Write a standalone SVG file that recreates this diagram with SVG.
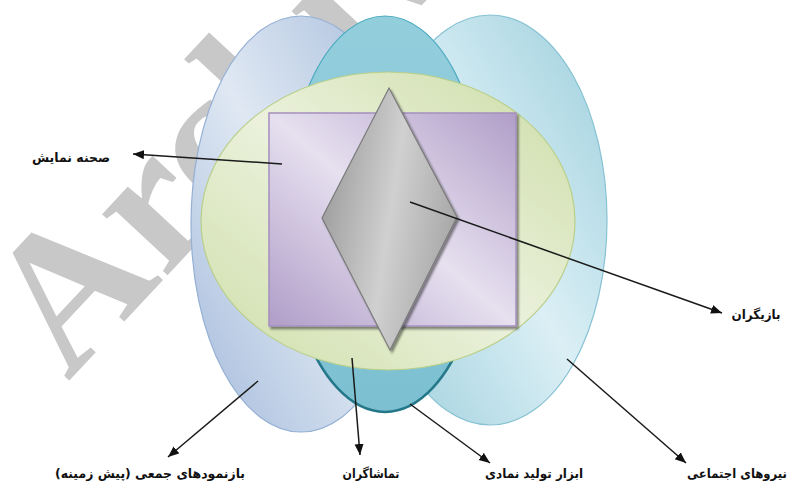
<svg xmlns="http://www.w3.org/2000/svg" width="794" height="486" viewBox="0 0 794 486">
<defs>
  <linearGradient id="gBlue" x1="0" y1="1" x2="1" y2="0">
    <stop offset="0" stop-color="#a3badb"/>
    <stop offset="0.5" stop-color="#dfe8f3"/>
    <stop offset="1" stop-color="#a6bcdb"/>
  </linearGradient>
  <linearGradient id="gRight" x1="0" y1="1" x2="1" y2="0">
    <stop offset="0" stop-color="#9bcedc"/>
    <stop offset="0.5" stop-color="#dbeff5"/>
    <stop offset="1" stop-color="#9ccfdd"/>
  </linearGradient>
  <linearGradient id="gTeal" x1="0" y1="0" x2="0" y2="1">
    <stop offset="0" stop-color="#93cedc"/>
    <stop offset="1" stop-color="#7cc0d1"/>
  </linearGradient>
  <linearGradient id="gGreen" x1="0" y1="1" x2="1" y2="0">
    <stop offset="0" stop-color="#cedea8"/>
    <stop offset="0.5" stop-color="#ebf1dc"/>
    <stop offset="1" stop-color="#ccdca5"/>
  </linearGradient>
  <linearGradient id="gPurple" x1="0" y1="1" x2="1" y2="0">
    <stop offset="0" stop-color="#b09dc8"/>
    <stop offset="0.5" stop-color="#e6e0ef"/>
    <stop offset="1" stop-color="#b19ec8"/>
  </linearGradient>
  <linearGradient id="gGrey" x1="0" y1="0.35" x2="1" y2="0.65">
    <stop offset="0" stop-color="#9c9c9c"/>
    <stop offset="0.5" stop-color="#d0d0d0"/>
    <stop offset="1" stop-color="#a4a4a4"/>
  </linearGradient>
  <filter id="sh" x="-10%" y="-10%" width="130%" height="130%">
    <feDropShadow dx="2" dy="2.5" stdDeviation="1.2" flood-color="#000" flood-opacity="0.45"/>
  </filter>
  <marker id="arr" markerUnits="userSpaceOnUse" markerWidth="12" markerHeight="10" refX="11" refY="4.5" orient="auto">
    <path d="M0,0 L11,4.5 L0,9 z" fill="#111"/>
  </marker>
</defs>
<style>
  .lbl { font-family: "DejaVu Sans", sans-serif; font-weight: bold; font-size: 13px; fill: #111; }
  .con { stroke: #1a1a1a; stroke-width: 1.5; fill: none; marker-end: url(#arr); }
  .wm { font-family: "Liberation Serif", serif; font-weight: bold; font-size: 195px; fill: #c8c8c8; }
</style>

<text class="wm" transform="translate(68,382) rotate(-47)">Archive</text>

<g id="collective-representations">
  <ellipse cx="301" cy="224" rx="110" ry="208" fill="url(#gBlue)" stroke="#95b0d4" stroke-width="1.2"/>
</g>
<g id="social-forces">
  <ellipse cx="490" cy="220" rx="117" ry="205" fill="url(#gRight)" stroke="#86c2d3" stroke-width="1.2"/>
</g>
<g id="symbolic-production">
  <ellipse cx="385" cy="214" rx="100" ry="198" fill="url(#gTeal)" stroke="#4aa9c0" stroke-width="1.2"/>
  <path d="M304,330 A100,198 0 0 0 466,330" fill="none" stroke="#25788a" stroke-width="2.5"/>
</g>
<g id="audience">
  <ellipse cx="388" cy="221" rx="187" ry="149" fill="url(#gGreen)" stroke="#b9cf8a" stroke-width="1.2"/>
</g>
<g id="stage">
  <rect x="269" y="113" width="247" height="213" fill="url(#gPurple)" stroke="#a590be" stroke-width="1.5" filter="url(#sh)"/>
</g>
<g id="actors">
  <polygon points="389,88 457,217 390,350 322,218" fill="url(#gGrey)" stroke="#7a7a7a" stroke-width="1.2" filter="url(#sh)"/>
</g>

<g id="connectors">
  <path class="con" d="M282,164 L133,154"/>
  <path class="con" d="M410,202 L722,313"/>
  <path class="con" d="M258,381 L168,457"/>
  <path class="con" d="M352,358 L360,455"/>
  <path class="con" d="M410,404 L490,463"/>
  <path class="con" d="M567,359 L686,463"/>
</g>

<g id="labels">
  <text class="lbl" direction="rtl" x="71" y="162" text-anchor="middle" textLength="78" lengthAdjust="spacingAndGlyphs">صحنه نمایش</text>
  <text class="lbl" direction="rtl" x="756" y="319" text-anchor="middle" textLength="49" lengthAdjust="spacingAndGlyphs">بازیگران</text>
  <text class="lbl" direction="rtl" x="150" y="478" text-anchor="middle" textLength="190" lengthAdjust="spacingAndGlyphs">بازنمودهای جمعی (پیش زمینه)</text>
  <text class="lbl" direction="rtl" x="371" y="478" text-anchor="middle" textLength="57" lengthAdjust="spacingAndGlyphs">تماشاگران</text>
  <text class="lbl" direction="rtl" x="534" y="478" text-anchor="middle" textLength="98" lengthAdjust="spacingAndGlyphs">ابزار تولید نمادی</text>
  <text class="lbl" direction="rtl" x="737" y="478" text-anchor="middle" textLength="100" lengthAdjust="spacingAndGlyphs">نیروهای اجتماعی</text>
</g>
</svg>
